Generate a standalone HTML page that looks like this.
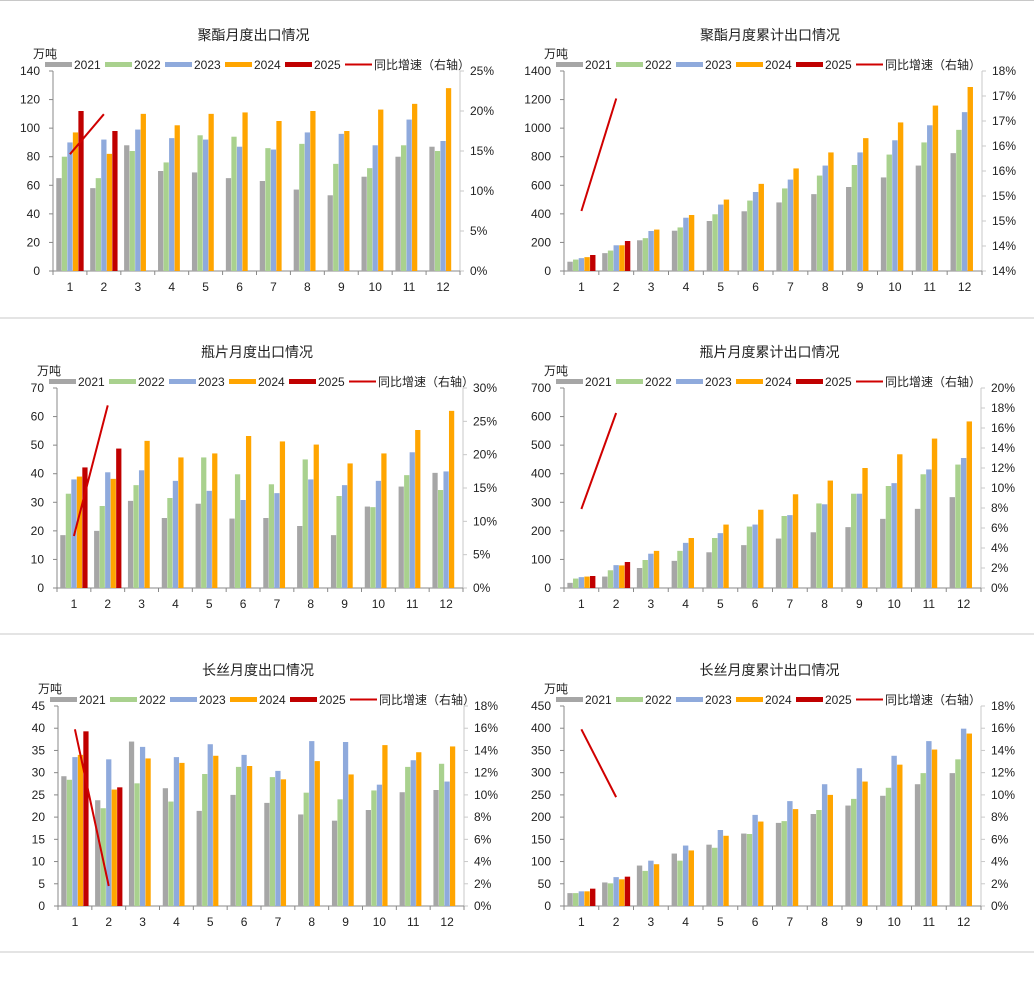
<!DOCTYPE html>
<html><head><meta charset="utf-8">
<style>
html,body{margin:0;padding:0;background:#fff;}
svg{display:block;font-family:"Liberation Sans","Noto Sans CJK SC",sans-serif;}
</style></head>
<body>
<svg id="root" width="1034" height="987" viewBox="0 0 1034 987" xmlns="http://www.w3.org/2000/svg">
<line x1="0" y1="0.5" x2="1034" y2="0.5" stroke="#c8c8c8"/>
<line x1="0" y1="318" x2="1034" y2="318" stroke="#c8c8c8"/>
<line x1="0" y1="634" x2="1034" y2="634" stroke="#c8c8c8"/>
<line x1="0" y1="952" x2="1034" y2="952" stroke="#c8c8c8"/>
</svg>
<script>
const categories = ["1","2","3","4","5","6","7","8","9","10","11","12"];
const seriesNames = ["2021","2022","2023","2024","2025"];
const lineName = "同比增速（右轴）";

// Chart 1: 聚酯月度出口情况
const c1Title = "聚酯月度出口情况";
const c1y2021 = [65,58,88,70,69,65,63,57,53,66,80,87];
const c1y2022 = [80,65,84,76,95,94,86,89,75,72,88,84];
const c1y2023 = [90,92,99,93,92,87,85,97,96,88,106,91];
const c1y2024 = [97,82,110,102,110,111,105,112,98,113,117,128];
const c1y2025 = [112,98];
const c1Growth = [14.6,19.6];
const c1LeftTicks = [0,20,40,60,80,100,120,140];
const c1RightTicks = ["0%","5%","10%","15%","20%","25%"];

// Chart 2: 聚酯月度累计出口情况
const c2Title = "聚酯月度累计出口情况";
const c2y2021 = [65,125,215,282,350,418,480,538,588,655,738,825];
const c2y2022 = [80,143,230,305,397,493,578,668,742,815,900,988];
const c2y2023 = [90,180,280,373,465,553,640,738,830,915,1020,1112];
const c2y2024 = [97,180,290,392,500,610,718,830,930,1040,1158,1288];
const c2y2025 = [112,210];
const c2Growth = [15.2,17.45];
const c2LeftTicks = [0,200,400,600,800,1000,1200,1400];
const c2RightTicks = ["14%","14%","15%","15%","16%","16%","17%","17%","18%"];

// Chart 3: 瓶片月度出口情况
const c3Title = "瓶片月度出口情况";
const c3y2021 = [18.5,20,30.5,24.5,29.5,24.3,24.5,21.7,18.5,28.5,35.5,40.3];
const c3y2022 = [33,28.7,36,31.5,45.7,39.8,36.3,45,32.2,28.3,39.5,34.3];
const c3y2023 = [38,40.5,41.2,37.5,34,30.8,33.2,38,36,37.5,47.5,40.8];
const c3y2024 = [39,38.2,51.5,45.7,47.1,53.2,51.3,50.2,43.6,47.1,55.3,62];
const c3y2025 = [42.2,48.8];
const c3Growth = [7.8,27.4];
const c3LeftTicks = [0,10,20,30,40,50,60,70];
const c3RightTicks = ["0%","5%","10%","15%","20%","25%","30%"];

// Chart 4: 瓶片月度累计出口情况
const c4Title = "瓶片月度累计出口情况";
const c4y2021 = [18,40,70,95,125,150,173,195,213,242,277,318];
const c4y2022 = [33,62,98,130,175,215,252,296,330,357,398,432];
const c4y2023 = [38,80,120,158,192,222,255,293,330,367,415,455];
const c4y2024 = [40,79,130,175,222,274,328,376,420,468,523,583];
const c4y2025 = [42,91];
const c4Growth = [7.9,17.5];
const c4LeftTicks = [0,100,200,300,400,500,600,700];
const c4RightTicks = ["0%","2%","4%","6%","8%","10%","12%","14%","16%","18%","20%"];

// Chart 5: 长丝月度出口情况
const c5Title = "长丝月度出口情况";
const c5y2021 = [29.2,23.8,37,26.5,21.4,25,23.2,20.6,19.2,21.6,25.6,26.1];
const c5y2022 = [28.4,22,27.6,23.5,29.7,31.3,29,25.5,24,26,31.3,32];
const c5y2023 = [33.5,33,35.8,33.5,36.4,34,30.4,37.1,36.9,27.3,32.8,28];
const c5y2024 = [34,26.2,33.2,32.2,33.8,31.5,28.5,32.6,29.6,36.2,34.6,35.9];
const c5y2025 = [39.3,26.7];
const c5Growth = [15.9,1.8];
const c5LeftTicks = [0,5,10,15,20,25,30,35,40,45];
const c5RightTicks = ["0%","2%","4%","6%","8%","10%","12%","14%","16%","18%"];

// Chart 6: 长丝月度累计出口情况
const c6Title = "长丝月度累计出口情况";
const c6y2021 = [29,53,91,118,138,163,187,207,226,248,274,299];
const c6y2022 = [29,51,79,102,131,162,191,216,241,266,299,330];
const c6y2023 = [33,65,102,136,171,205,236,274,310,338,371,399];
const c6y2024 = [33,60,94,125,158,190,218,250,280,318,352,388];
const c6y2025 = [39,66];
const c6Growth = [15.9,9.8];
const c6LeftTicks = [0,50,100,150,200,250,300,350,400,450];
const c6RightTicks = ["0%","2%","4%","6%","8%","10%","12%","14%","16%","18%"];

const colors = ["#a6a6a6","#a9d18e","#8faadc","#ffa500","#c00000"];
const NS = "http://www.w3.org/2000/svg";
const root = document.getElementById("root");

function mk(tag, attrs, parent){
  const e = document.createElementNS(NS, tag);
  for (const k in attrs) e.setAttribute(k, attrs[k]);
  parent.appendChild(e);
  return e;
}

function drawChart(id, box, title, series, growth, leftTicks, rightMin, rightMax, rightTicks){
  const g = mk("g", {}, root);
  
  
  const L = box.l, R = box.r, T = box.t, B = box.b;
  const lMax = leftTicks[leftTicks.length-1];
  const y = v => B - v / lMax * (B - T);
  const y2 = v => B - (v - rightMin) / (rightMax - rightMin) * (B - T);
  const cw = (R - L) / categories.length;
  const cx = i => L + cw * (i + 0.5);

  const t = mk("text", {x:(L+R)/2 - 3, y:T - 31, "text-anchor":"middle", "font-size":"14", fill:"#222"}, g);
  t.textContent = title;
  
  

  const u = mk("text", {x:L - 20, y:T - 13, "font-size":"12", fill:"#222"}, g);
  u.textContent = "万吨";
  
  

  // legend
  const lx0 = L - 8, ly = T - 6;
  for (let s = 0; s < 6; s++){
    const lg = mk("g", {}, g);
    
    
    const x = lx0 + s * 60;
    if (s < 5) mk("rect", {x:x, y:ly - 3, width:27, height:5, fill:colors[s]}, lg);
    else mk("line", {x1:x, y1:ly - 0.5, x2:x+27, y2:ly - 0.5, stroke:"#d00000", "stroke-width":2}, lg);
    const lt = mk("text", {x:x + 29, y:ly + 4, "font-size":"12", fill:"#222"}, lg);
    lt.textContent = s < 5 ? seriesNames[s] : lineName;
  }

  // axes
  const ax = mk("line", {x1:L, y1:T, x2:L, y2:B, stroke:"#888"}, g);
  
  
  const ax2 = mk("line", {x1:R, y1:T, x2:R, y2:B, stroke:"#c8c8c8"}, g);
  
  
  const xb = mk("line", {x1:L, y1:B, x2:R, y2:B, stroke:"#888"}, g);
  
  

  leftTicks.forEach(v => {
    mk("line", {x1:L-4, y1:y(v), x2:L, y2:y(v), stroke:"#888"}, g);
    const tl = mk("text", {x:L - 13, y:y(v) + 4, "text-anchor":"end", "font-size":"12", fill:"#222"}, g);
    tl.textContent = v;
    
    
  });
  rightTicks.forEach((lab, i) => {
    const yy = B - i / (rightTicks.length - 1) * (B - T);
    mk("line", {x1:R, y1:yy, x2:R+4, y2:yy, stroke:"#c8c8c8"}, g);
    const tr = mk("text", {x:R + 10, y:yy + 4, "font-size":"12", fill:"#222"}, g);
    tr.textContent = lab;
    
    
  });
  for (let i = 0; i <= categories.length; i++){
    mk("line", {x1:L + cw*i, y1:B, x2:L + cw*i, y2:B+4, stroke:"#888"}, g);
  }
  categories.forEach((c, i) => {
    const ct = mk("text", {x:cx(i), y:B + 20, "text-anchor":"middle", "font-size":"12", fill:"#222"}, g);
    ct.textContent = c;
    
    
  });

  // bars
  const bw = cw * 0.155, gap = cw * 0.008;
  const gw = 5 * bw + 4 * gap;
  series.forEach((vals, s) => {
    vals.forEach((v, i) => {
      const x = cx(i) - gw/2 + s * (bw + gap);
      const r = mk("rect", {x:x, y:y(v), width:bw, height:B - y(v), fill:colors[s]}, g);
      
      
    });
  });

  // growth line
  const pts = growth.map((v, i) => cx(i) + "," + y2(v)).join(" ");
  const pl = mk("polyline", {points:pts, fill:"none", stroke:"#d00000", "stroke-width":2}, g);
  
  
}

drawChart("chart-polyester-monthly", {l:53,r:460,t:71,b:271}, c1Title, [c1y2021,c1y2022,c1y2023,c1y2024,c1y2025], c1Growth, c1LeftTicks, 0, 25, c1RightTicks);
drawChart("chart-polyester-cumulative", {l:564,r:982,t:71,b:271}, c2Title, [c2y2021,c2y2022,c2y2023,c2y2024,c2y2025], c2Growth, c2LeftTicks, 14, 18, c2RightTicks);
drawChart("chart-bottle-monthly", {l:57,r:463,t:388,b:588}, c3Title, [c3y2021,c3y2022,c3y2023,c3y2024,c3y2025], c3Growth, c3LeftTicks, 0, 30, c3RightTicks);
drawChart("chart-bottle-cumulative", {l:564,r:981,t:388,b:588}, c4Title, [c4y2021,c4y2022,c4y2023,c4y2024,c4y2025], c4Growth, c4LeftTicks, 0, 20, c4RightTicks);
drawChart("chart-filament-monthly", {l:58,r:464,t:706,b:906}, c5Title, [c5y2021,c5y2022,c5y2023,c5y2024,c5y2025], c5Growth, c5LeftTicks, 0, 18, c5RightTicks);
drawChart("chart-filament-cumulative", {l:564,r:981,t:706,b:906}, c6Title, [c6y2021,c6y2022,c6y2023,c6y2024,c6y2025], c6Growth, c6LeftTicks, 0, 18, c6RightTicks);
</script>
</body></html>
